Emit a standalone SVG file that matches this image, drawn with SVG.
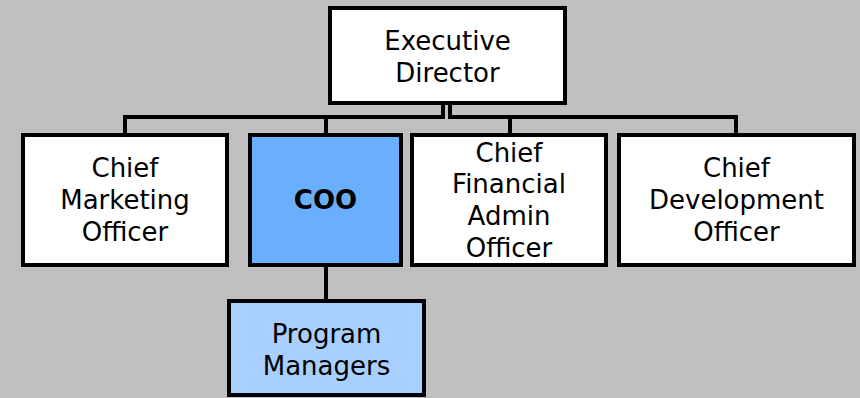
<svg xmlns="http://www.w3.org/2000/svg" width="860" height="398" viewBox="0 0 860 398">
<style>
.box{stroke:#000;stroke-width:4}
.w{fill:#fff}
.coo{fill:#6aaefe}
.pm{fill:#a8cffe}
.t{font-family:"DejaVu Sans",Verdana,sans-serif;font-size:26px;fill:#000;text-anchor:middle}
.b{font-weight:bold}
.c{fill:none;stroke:#000;stroke-width:4}
</style>
<rect width="860" height="398" fill="#c0c0c0"/>
<g id="connectors">
<path class="c" d="M443,104 V117 H125 V133"/>
<path class="c" d="M443,117 H326 V133"/>
<path class="c" d="M450,104 V117 H736 V133"/>
<path class="c" d="M450,117 H510 V133"/>
<path class="c" d="M326,267 V299"/>
</g>
<g id="executive-director">
<rect class="box w" x="330" y="8" width="235" height="95"/>
<text class="t" x="447.5" y="50">Executive</text>
<text class="t" x="447.5" y="82">Director</text>
</g>
<g id="cmo">
<rect class="box w" x="23" y="135" width="204" height="130"/>
<text class="t" x="125" y="177">Chief</text>
<text class="t" x="125" y="209">Marketing</text>
<text class="t" x="125" y="241">Officer</text>
</g>
<g id="coo">
<rect class="box coo" x="250" y="135" width="151" height="130"/>
<text class="t b" x="325.5" y="209">COO</text>
</g>
<g id="cfao">
<rect class="box w" x="412" y="135" width="194" height="130"/>
<text class="t" x="509" y="162">Chief</text>
<text class="t" x="509" y="193">Financial</text>
<text class="t" x="509" y="225">Admin</text>
<text class="t" x="509" y="257">Officer</text>
</g>
<g id="cdo">
<rect class="box w" x="619" y="135" width="235" height="130"/>
<text class="t" x="736.5" y="177">Chief</text>
<text class="t" x="736.5" y="209">Development</text>
<text class="t" x="736.5" y="241">Officer</text>
</g>
<g id="program-managers">
<rect class="box pm" x="229" y="301" width="195" height="94"/>
<text class="t" x="326.5" y="343">Program</text>
<text class="t" x="326.5" y="375">Managers</text>
</g>
</svg>
